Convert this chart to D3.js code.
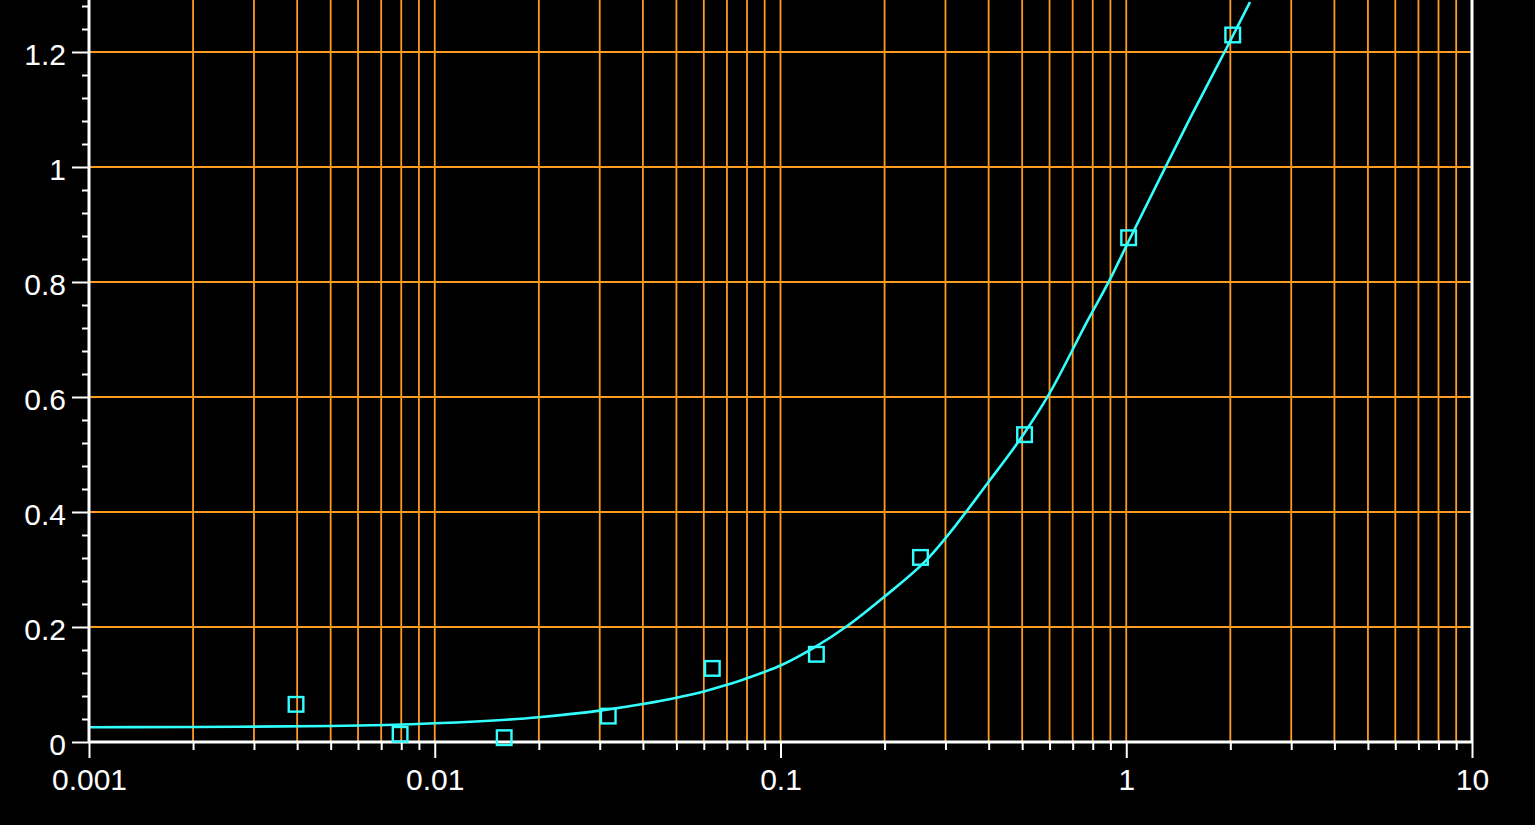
<!DOCTYPE html>
<html>
<head>
<meta charset="utf-8">
<script src="https://cdn.jsdelivr.net/npm/d3@7"></script>
<style>
  html, body { margin: 0; padding: 0; background: #000; overflow: hidden; }
  svg { display: block; }
</style>
</head>
<body>
<script>
// ---- data ----
const pointX = [0.00397, 0.00794, 0.01588, 0.03175, 0.0635, 0.127, 0.254, 0.508, 1.016, 2.032];
const pointY = [0.0655, 0.0134, 0.0075, 0.045, 0.128, 0.1525, 0.321, 0.5345, 0.877, 1.2296];

const curveX = [0.001, 0.002, 0.005, 0.01, 0.02, 0.03, 0.04, 0.05, 0.06, 0.07, 0.08, 0.09, 0.1,
                0.125, 0.157, 0.2, 0.262, 0.404, 0.503, 0.594, 0.775, 0.898, 1.025, 1.2525, 1.53, 1.931, 2.28];
const curveY = [0.0256, 0.0262, 0.0278, 0.0325, 0.043, 0.0545, 0.066, 0.077, 0.088, 0.0995, 0.111, 0.122, 0.133,
                0.164, 0.203, 0.253, 0.314, 0.456, 0.534, 0.602, 0.734, 0.805, 0.8757, 0.981, 1.085, 1.2017, 1.287];

const xMajorTicks = [0.001, 0.01, 0.1, 1, 10];
const xTickLabels = ["0.001", "0.01", "0.1", "1", "10"];
const xMinorMultipliers = [2, 3, 4, 5, 6, 7, 8, 9];
const yMajorTicks = [0, 0.2, 0.4, 0.6, 0.8, 1, 1.2];
const yTickLabels = ["0", "0.2", "0.4", "0.6", "0.8", "1", "1.2"];
const yMinorTicks = [0.04, 0.08, 0.12, 0.16, 0.24, 0.28, 0.32, 0.36, 0.44, 0.48, 0.52, 0.56,
                     0.64, 0.68, 0.72, 0.76, 0.84, 0.88, 0.92, 0.96, 1.04, 1.08, 1.12, 1.16, 1.24, 1.28];

// ---- layout ----
const W = 1535, H = 825;
const mLeft = 89, mRight = 1472, mBottom = 742, mTop = 0;
const ORANGE = "#ff9a22";
const CYAN = "#33ffff";
const FONT = "'Liberation Sans', Arial, sans-serif";

const svg = d3.select("body").append("svg").attr("width", W).attr("height", H)
  .style("background", "#000");

const x = d3.scaleLog().domain([0.001, 10]).range([mLeft, mRight]);
const y = d3.scaleLinear().domain([0, 1.2]).range([mBottom, 52]);

const xMinor = [];
[0.001, 0.01, 0.1, 1].forEach(d => xMinorMultipliers.forEach(m => xMinor.push(d * m)));
const xGrid = xMinor.concat([0.01, 0.1, 1]);

svg.append("defs").append("clipPath").attr("id", "plot")
  .append("rect").attr("x", mLeft).attr("y", mTop).attr("width", mRight - mLeft).attr("height", mBottom - mTop);

// grid
const grid = svg.append("g");
grid.selectAll("line.v").data(xGrid).join("line").attr("class", "v")
  .attr("x1", d => x(d)).attr("x2", d => x(d)).attr("y1", mTop).attr("y2", mBottom)
  .attr("stroke", ORANGE).attr("stroke-width", 1.8);
grid.selectAll("line.h").data(yMajorTicks.filter(d => d > 0)).join("line").attr("class", "h")
  .attr("x1", mLeft).attr("x2", mRight).attr("y1", d => y(d)).attr("y2", d => y(d))
  .attr("stroke", ORANGE).attr("stroke-width", 1.8);

// curve
const curveData = curveX.map((v, i) => [v, curveY[i]]);
svg.append("path").datum(curveData)
  .attr("clip-path", "url(#plot)")
  .attr("fill", "none").attr("stroke", CYAN).attr("stroke-width", 2.6)
  .attr("d", d3.line().x(d => x(d[0])).y(d => y(d[1])).curve(d3.curveMonotoneX));

// axes
const axisColor = "#ffffff";
function styleAxis(g, domainWidth) {
  g.select(".domain").attr("stroke", axisColor).attr("stroke-width", domainWidth);
  g.selectAll(".tick line").attr("stroke", axisColor).attr("stroke-width", 2);
  g.selectAll(".tick text").attr("fill", axisColor).style("font-family", FONT).style("font-size", "30px");
}

// y minor
const gyMinor = svg.append("g").attr("transform", `translate(${mLeft},0)`)
  .call(d3.axisLeft(y).tickValues(yMinorTicks).tickSize(7).tickSizeOuter(0).tickFormat(""));
gyMinor.select(".domain").remove();
gyMinor.selectAll(".tick line").attr("stroke", axisColor).attr("stroke-width", 2);

// x minor
const gxMinor = svg.append("g").attr("transform", `translate(0,${mBottom})`)
  .call(d3.axisBottom(x).tickValues(xMinor).tickSize(8).tickSizeOuter(0).tickFormat(""));
gxMinor.select(".domain").remove();
gxMinor.selectAll(".tick line").attr("stroke", axisColor).attr("stroke-width", 2);

// y major
const gy = svg.append("g").attr("transform", `translate(${mLeft},0)`)
  .call(d3.axisLeft(y).tickValues(yMajorTicks).tickSize(17).tickPadding(6).tickSizeOuter(0)
    .tickFormat((d, i) => yTickLabels[i]));
gy.select(".domain").attr("d", `M0,${mBottom}V${mTop}`);
styleAxis(gy, 3);
gy.selectAll(".tick text").attr("dy", "0.4em");

// x major
const gx = svg.append("g").attr("transform", `translate(0,${mBottom})`)
  .call(d3.axisBottom(x).tickValues(xMajorTicks).tickSize(16).tickPadding(11).tickSizeOuter(0)
    .tickFormat((d, i) => xTickLabels[i]));
gx.select(".domain").attr("d", `M${mLeft},0H${mRight}`);
styleAxis(gx, 3);

// right border
svg.append("line").attr("x1", mRight).attr("x2", mRight).attr("y1", mTop).attr("y2", mBottom)
  .attr("stroke", axisColor).attr("stroke-width", 3);

// points
svg.append("g").selectAll("rect").data(pointX.map((v, i) => [v, pointY[i]])).join("rect")
  .attr("x", d => x(d[0]) - 7.3).attr("y", d => y(d[1]) - 7.3)
  .attr("width", 14.6).attr("height", 14.6)
  .attr("fill", "none").attr("stroke", CYAN).attr("stroke-width", 2.4);
</script>
</body>
</html>
